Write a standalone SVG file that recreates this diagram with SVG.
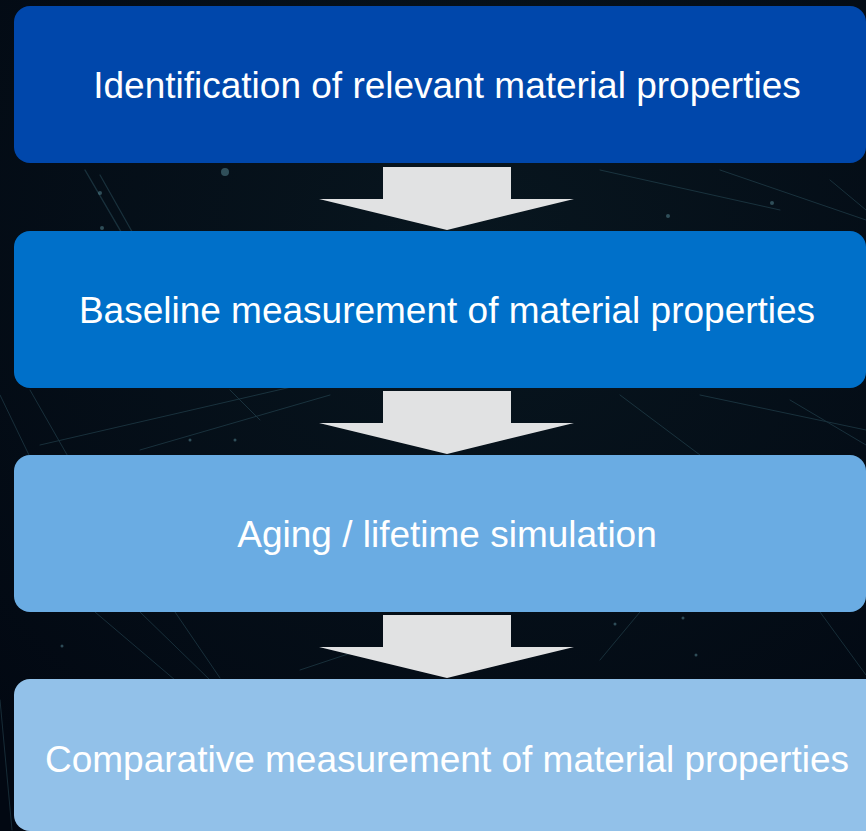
<svg xmlns="http://www.w3.org/2000/svg" width="866" height="831" viewBox="0 0 866 831">
  <defs>
    <style>
      .box { stroke: none; }
      .label { font-family: "Liberation Sans", Arial, sans-serif; font-size: 37px; fill: #FFFFFF; text-anchor: middle; }
      .arrow { fill: #E1E2E3; }
      .streak { stroke: #5FA7B8; stroke-linecap: round; fill: none; }
      .spark { fill: #7FC3D0; }
    </style>
    <radialGradient id="bgGlow" cx="0.55" cy="0.3" r="0.8">
      <stop offset="0" stop-color="#08161F"/>
      <stop offset="1" stop-color="#020812"/>
    </radialGradient>
    <!-- block arrow pointing down, tip at the origin -->
    <path id="downArrow" class="arrow" d="M -64 -63 H 64 V -31 H 127 L 0 0 L -128 -31 H -64 Z"/>
  </defs>

  <!-- dark textured backdrop -->
  <rect x="0" y="0" width="866" height="831" fill="url(#bgGlow)"/>
  <g id="backdrop-lines" opacity="0.22">
    <path class="streak" stroke-width="1.4" d="M 85 170 L 190 350"/>
    <path class="streak" stroke-width="1.2" d="M 100 175 L 165 290"/>
    <path class="streak" stroke-width="1" d="M 0 395 L 70 540"/>
    <path class="streak" stroke-width="1" d="M 30 390 L 70 460"/>
    <path class="streak" stroke-width="1" d="M 40 445 L 300 385"/>
    <path class="streak" stroke-width="1" d="M 140 450 L 330 395"/>
    <path class="streak" stroke-width="1" d="M 230 390 L 260 420"/>
    <path class="streak" stroke-width="1" d="M 95 612 L 175 680"/>
    <path class="streak" stroke-width="1" d="M 140 612 L 210 680"/>
    <path class="streak" stroke-width="1" d="M 175 612 L 220 678"/>
    <path class="streak" stroke-width="1" d="M 600 170 L 780 210"/>
    <path class="streak" stroke-width="1" d="M 720 170 L 866 220"/>
    <path class="streak" stroke-width="1" d="M 830 180 L 866 210"/>
    <path class="streak" stroke-width="1" d="M 620 395 L 700 455"/>
    <path class="streak" stroke-width="1" d="M 700 395 L 866 430"/>
    <path class="streak" stroke-width="1" d="M 790 400 L 866 445"/>
    <path class="streak" stroke-width="1" d="M 600 660 L 640 612"/>
    <path class="streak" stroke-width="1" d="M 820 612 L 866 675"/>
    <path class="streak" stroke-width="1" d="M 300 670 L 360 650"/>
    <path class="streak" stroke-width="1" d="M 0 700 L 12 830"/>
  </g>
  <g id="backdrop-sparks" opacity="0.35">
    <circle class="spark" cx="225" cy="172" r="4"/>
    <circle class="spark" cx="100" cy="193" r="2"/>
    <circle class="spark" cx="102" cy="228" r="2"/>
    <circle class="spark" cx="772" cy="203" r="2"/>
    <circle class="spark" cx="668" cy="216" r="2"/>
    <circle class="spark" cx="190" cy="440" r="1.5"/>
    <circle class="spark" cx="235" cy="440" r="1.5"/>
    <circle class="spark" cx="683" cy="618" r="1.5"/>
    <circle class="spark" cx="696" cy="655" r="1.5"/>
    <circle class="spark" cx="615" cy="624" r="1.5"/>
    <circle class="spark" cx="62" cy="646" r="1.5"/>
  </g>

  <!-- process steps -->
  <g id="step-identification">
    <rect class="box" x="14" y="6" width="852" height="157" rx="16" fill="#0047AB"/>
    <text class="label" x="447" y="98">Identification of relevant material properties</text>
  </g>
  <g id="step-baseline">
    <rect class="box" x="14" y="231" width="852" height="157" rx="16" fill="#0070C9"/>
    <text class="label" x="447" y="323">Baseline measurement of material properties</text>
  </g>
  <g id="step-aging">
    <rect class="box" x="14" y="455" width="852" height="157" rx="16" fill="#6AACE3"/>
    <text class="label" x="447" y="547">Aging / lifetime simulation</text>
  </g>
  <g id="step-comparative">
    <rect class="box" x="14" y="679" width="870" height="152" rx="16" fill="#92C1E9"/>
    <text class="label" x="447" y="772">Comparative measurement of material properties</text>
  </g>

  <!-- connectors between steps -->
  <g id="connectors">
    <use href="#downArrow" x="447" y="230"/>
    <use href="#downArrow" x="447" y="454"/>
    <use href="#downArrow" x="447" y="678"/>
  </g>
</svg>
